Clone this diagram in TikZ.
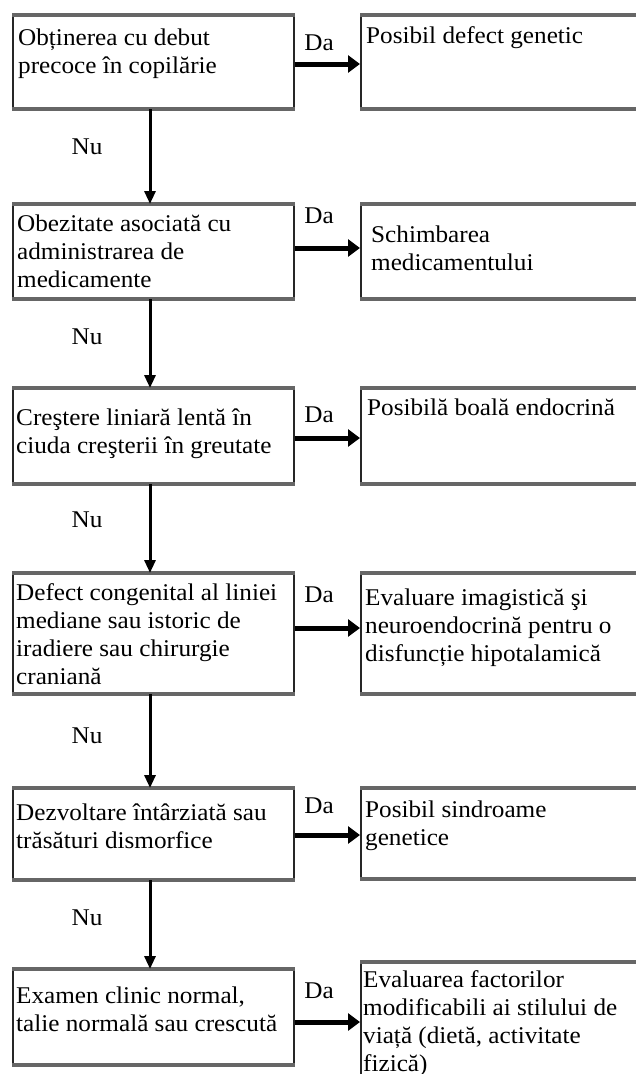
\documentclass[tikz,border=0pt]{standalone}
\usepackage{fontspec}
\setmainfont{Liberation Serif}[FakeStretch=1.05]
\usetikzlibrary{arrows.meta}
\newcommand{\mylines}[1]{\begin{tabular}[t]{@{}l@{}}#1\end{tabular}}
\begin{document}
\begin{tikzpicture}[x=1pt,y=-1pt,
  font=\fontsize{24}{28}\selectfont,
  box/.style={draw=black!85, line width=2pt, anchor=north west, inner sep=0pt, minimum width=281pt},
  rbox/.style={draw=black!85, line width=2pt, anchor=north west, inner sep=0pt, minimum width=300pt},
  hedge/.style={draw=black!60, line width=3.5pt},
  txt/.style={anchor=base west, inner sep=0pt},
  lab/.style={anchor=base, inner sep=0pt},
  yes/.style={line width=5pt, -{Triangle[length=12pt,width=17pt]}},
  no/.style={line width=3pt, -{Triangle[length=13pt,width=11pt]}}]
\useasboundingbox (0,0) rectangle (636,1074);
\clip (0,0) rectangle (636,1074);
\fill[white] (0,0) rectangle (636,1074);

% left boxes
\node[box, minimum height=92pt] (q1) at (12,15) {};
\node[box, minimum height=93pt] (q2) at (12,204) {};
\node[box, minimum height=94pt] (q3) at (12,388) {};
\node[box, minimum height=119pt] (q4) at (12,573) {};
\node[box, minimum height=90pt] (q5) at (12,788) {};
\node[box, minimum height=94pt] (q6) at (12,969) {};
% right boxes
\node[rbox, minimum height=92pt] (r1) at (360,15) {};
\node[rbox, minimum height=93pt] (r2) at (360,204) {};
\node[rbox, minimum height=94pt] (r3) at (360,388) {};
\node[rbox, minimum height=119pt] (r4) at (360,573) {};
\node[rbox, minimum height=89pt] (r5) at (360,788) {};
\node[rbox, minimum height=150pt] (r6) at (360,962) {};

% shaded top and bottom edges
\foreach \b in {q1,q2,q3,q4,q5,q6,r1,r2,r3,r4,r5,r6}{
  \draw[hedge] (\b.north west) -- (\b.north east);
  \draw[hedge] (\b.south west) -- (\b.south east);
}

% texts
\node[txt] (t1) at (18,45) {\mylines{Obținerea cu debut\\precoce în copilărie}};
\node[txt] (t2) at (17,231) {\mylines{Obezitate asociată cu\\administrarea de\\medicamente}};
\node[txt] (t3) at (16,425) {\mylines{Creştere liniară lentă în\\ciuda creşterii în greutate}};
\node[txt] (t4) at (16,600) {\mylines{Defect congenital al liniei\\mediane sau istoric de\\iradiere sau chirurgie\\craniană}};
\node[txt] (t5) at (16,820) {\mylines{Dezvoltare întârziată sau\\trăsături dismorfice}};
\node[txt] (t6) at (16,1003) {\mylines{Examen clinic normal,\\talie normală sau crescută}};

\node[txt] (s1) at (366,43) {Posibil defect genetic};
\node[txt] (s2) at (371,242) {\mylines{Schimbarea\\medicamentului}};
\node[txt] (s3) at (367,415) {Posibilă boală endocrină};
\node[txt] (s4) at (365,605) {\mylines{Evaluare imagistică şi\\neuroendocrină pentru o\\disfuncție hipotalamică}};
\node[txt] (s5) at (365,817) {\mylines{Posibil sindroame\\genetice}};
\node[txt] (s6) at (363,987) {\mylines{Evaluarea factorilor\\modificabili ai stilului de\\viață (dietă, activitate\\fizică)}};

% Da labels
\node[lab] (d1) at (319,50) {Da};
\node[lab] (d2) at (319,223) {Da};
\node[lab] (d3) at (319,422) {Da};
\node[lab] (d4) at (319,602) {Da};
\node[lab] (d5) at (319,813) {Da};
\node[lab] (d6) at (319,998) {Da};
% Nu labels
\node[lab] (n1) at (87,154) {Nu};
\node[lab] (n2) at (87,344) {Nu};
\node[lab] (n3) at (87,527) {Nu};
\node[lab] (n4) at (87,743) {Nu};
\node[lab] (n5) at (87,925) {Nu};

% yes arrows
\draw[yes] (q1.east |- 0,64) -- (r1.west |- 0,64);
\draw[yes] (q2.east |- 0,248) -- (r2.west |- 0,248);
\draw[yes] (q3.east |- 0,438) -- (r3.west |- 0,438);
\draw[yes] (q4.east |- 0,628) -- (r4.west |- 0,628);
\draw[yes] (q5.east |- 0,835) -- (r5.west |- 0,835);
\draw[yes] (q6.east |- 0,1022) -- (r6.west |- 0,1022);
% no arrows
\draw[no] (q1.south -| 150,0) -- (q2.north -| 150,0);
\draw[no] (q2.south -| 150,0) -- (q3.north -| 150,0);
\draw[no] (q3.south -| 150,0) -- (q4.north -| 150,0);
\draw[no] (q4.south -| 150,0) -- (q5.north -| 150,0);
\draw[no] (q5.south -| 150,0) -- (q6.north -| 150,0);
\end{tikzpicture}
\end{document}
